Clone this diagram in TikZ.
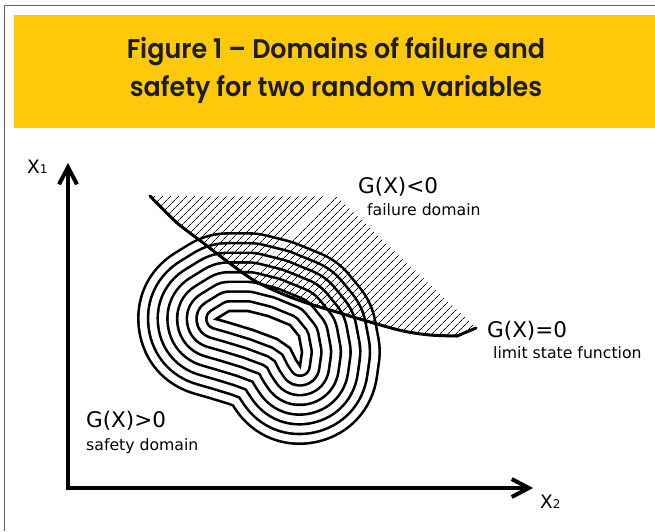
\documentclass[tikz,border=0pt]{standalone}
\usepackage{fontspec}
\setmainfont{DejaVu Sans}
\newfontfamily\titlefont{Poppins SemiBold}[FakeStretch=0.94]
\usetikzlibrary{arrows.meta,patterns.meta}

\definecolor{bandyellow}{RGB}{254,201,11}
\definecolor{framegray}{RGB}{95,95,95}
\definecolor{inkblack}{RGB}{30,28,29}

% spacing and stroke of the probability contours
\newcommand{\ringgap}{9.7pt}
\newcommand{\ringw}{2.6pt}
% innermost contour (a thin crescent), every other ring is an offset of it
\newcommand{\crescent}{(216,319) -- (229,311) -- (248,311) -- (268,316) -- (290,325) -- (299,336) -- (302,352) -- (300,366) -- (296,360) -- (290,348) -- (277,339) -- (253,330) -- (230,323) -- cycle}

\begin{document}
\begin{tikzpicture}[x=1pt,y=-1pt,line cap=round,line join=round,
  biglabel/.style={anchor=base west,inner sep=0pt,font=\fontsize{21.5}{24}\selectfont},
  smalllabel/.style={anchor=base west,inner sep=0pt,font=\fontsize{15.7}{18}\selectfont},
  axislabel/.style={anchor=base west,inner sep=0pt,font=\fontsize{18.5}{20}\selectfont},
  axistip/.tip={Straight Barb[length=17pt,width=18pt]}]
\useasboundingbox (0,0) rectangle (655,531);

% frame and title band
\draw[framegray,line width=1.4pt,line cap=butt] (4.7,531) -- (4.7,5.6) -- (655,5.6);
\fill[bandyellow] (13.7,14.7) rectangle (655,127.7);
\node[font=\titlefont\fontsize{27}{38}\selectfont,align=center,text=inkblack] (title) at (336,70)
  {Figure 1 – Domains of failure and\\safety for two random variables};

% contours: thick black stroke, then a thinner white one on top
\foreach \k in {8,...,1}{
  \draw[line width=2*\k*\ringgap+\ringw] \crescent;
  \draw[white,line width=2*\k*\ringgap-\ringw] \crescent;
}
\fill[white] \crescent;
\draw[line width=\ringw,line join=miter] \crescent;

% failure domain
\fill[pattern={Lines[angle=45,distance=5.4pt,line width=0.7pt]}]
  plot[smooth,tension=0.5] coordinates {(150,196) (176,222) (202,242) (228,262) (255,281) (285,295) (310,304) (340,313) (370,322) (403,331) (430,335) (457,336)}
  -- (476,328) -- (336,196) -- cycle;
\draw[line width=3pt]
  plot[smooth,tension=0.5] coordinates {(150,196) (176,222) (202,242) (228,262) (255,281) (285,295) (310,304) (340,313) (370,322) (403,331) (430,335) (457,336)}
  -- (476,328);

% axes
\coordinate (origin) at (68,488);
\coordinate (x1tip) at (68,163);
\coordinate (x2tip) at (533,488);
\draw[line width=4pt,line cap=butt,line join=miter,axistip-axistip] (x1tip) -- (origin) -- (x2tip);
\node[axislabel] (x1) at (27,173) {X{\fontsize{12}{12}\selectfont 1}};
\node[axislabel] (x2) at (540,508) {X{\fontsize{12}{12}\selectfont 2}};

% labels
\node[biglabel] (gneg) at (358,193) {G(X)<0};
\node[smalllabel] (fail) at (367,215) {failure domain};
\node[biglabel] (gzero) at (487,337) {G(X)=0};
\node[smalllabel] (limit) at (493,358) {limit state function};
\node[biglabel] (gpos) at (86,427) {G(X)>0};
\node[smalllabel] (safe) at (86,450) {safety domain};
\end{tikzpicture}
\end{document}
